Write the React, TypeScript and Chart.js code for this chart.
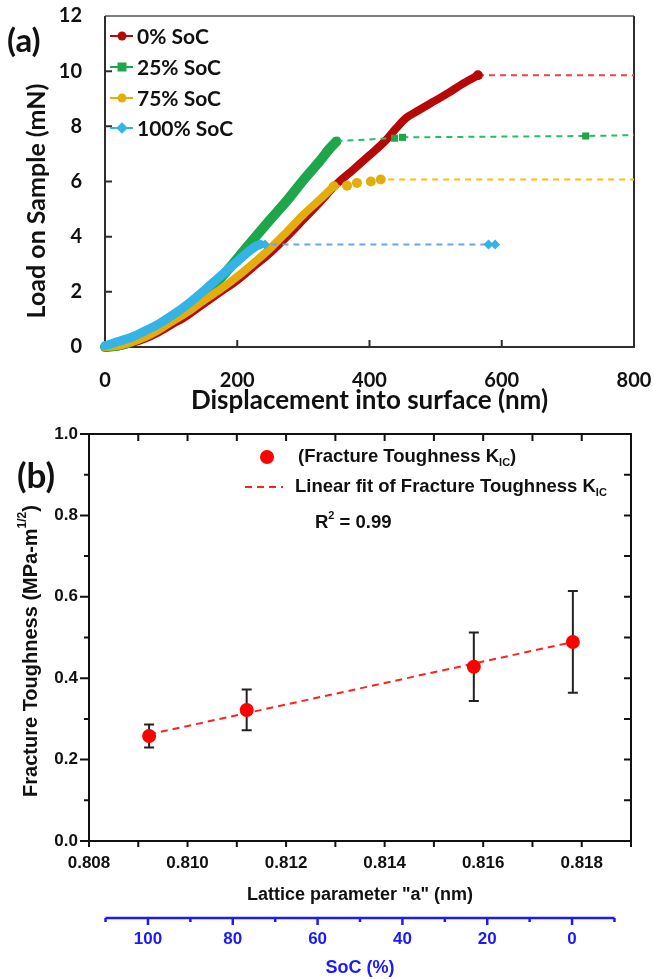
import React, { useEffect, useRef } from 'react';
import { Chart, registerables } from 'chart.js';

Chart.register(...registerables);

// ---------------- Panel (a): load vs displacement ----------------
const dispTicks = [0, 200, 400, 600, 800];
const loadTicks = [0, 2, 4, 6, 8, 10, 12];
const seriesLabels = ['0% SoC', '25% SoC', '75% SoC', '100% SoC'];

const soc0Disp = [0, 20, 40, 60, 80, 100, 125, 150, 175, 200, 225, 250, 275, 300, 325, 350, 375, 400, 425, 440, 455, 470, 500, 520, 540, 564];
const soc0Load = [0, 0.03, 0.14, 0.3, 0.52, 0.8, 1.15, 1.58, 2.0, 2.42, 2.92, 3.42, 4.0, 4.62, 5.25, 5.9, 6.42, 6.95, 7.5, 7.92, 8.3, 8.52, 8.94, 9.22, 9.53, 9.85];
const soc0HoldDisp = [564, 800];
const soc0HoldLoad = [9.85, 9.85];

const soc25Disp = [0, 20, 40, 60, 80, 100, 125, 150, 175, 200, 225, 250, 275, 300, 325, 340, 350];
const soc25Load = [0, 0.05, 0.2, 0.42, 0.7, 1.0, 1.42, 1.9, 2.5, 3.2, 3.92, 4.62, 5.3, 6.05, 6.75, 7.2, 7.45];
const soc25HoldDisp = [350, 438, 450, 727, 800];
const soc25HoldLoad = [7.47, 7.57, 7.6, 7.65, 7.68];

const soc75Disp = [0, 20, 40, 60, 80, 100, 125, 150, 175, 200, 225, 250, 275, 300, 325, 346];
const soc75Load = [0, 0.04, 0.17, 0.35, 0.6, 0.9, 1.27, 1.7, 2.1, 2.55, 3.05, 3.58, 4.18, 4.8, 5.35, 5.83];
const soc75HoldDisp = [346, 366, 381, 402, 417, 800];
const soc75HoldLoad = [5.83, 5.85, 5.95, 6.0, 6.07, 6.07];

const soc100Disp = [0, 10, 20, 43, 60, 80, 100, 125, 150, 175, 200, 215, 228, 235];
const soc100Load = [0.05, 0.12, 0.2, 0.38, 0.58, 0.82, 1.12, 1.55, 2.05, 2.58, 3.1, 3.42, 3.65, 3.72];
const soc100HoldDisp = [235, 242, 580, 590];
const soc100HoldLoad = [3.72, 3.72, 3.72, 3.72];

// ---------------- Panel (b): fracture toughness ----------------
const latticeA = [0.80922, 0.8112, 0.81581, 0.81782];
const toughness = [0.258, 0.322, 0.428, 0.489];
const toughnessErr = [0.028, 0.05, 0.084, 0.125];
const fitLattice = [0.80922, 0.81782];
const fitToughness = [0.262, 0.489];
const rSquared = '0.99';

const latticeTicks = [0.808, 0.809, 0.81, 0.811, 0.812, 0.813, 0.814, 0.815, 0.816, 0.817, 0.818, 0.819];
const latticeTickLabels = ['0.808', '', '0.810', '', '0.812', '', '0.814', '', '0.816', '', '0.818', ''];
const toughTicks = [0, 0.1, 0.2, 0.3, 0.4, 0.5, 0.6, 0.7, 0.8, 0.9, 1.0];
const toughTickLabels = ['0.0', '', '0.2', '', '0.4', '', '0.6', '', '0.8', '', '1.0'];
const socTicks = [110, 100, 90, 80, 70, 60, 50, 40, 30, 20, 10, 0, -10];
const socTickLabels = ['', '100', '', '80', '', '60', '', '40', '', '20', '', '0', ''];
const socAxisMin = -13.9;
const socAxisMax = 113.9;

const FA = 'Lato';
const FB = '"Liberation Sans", Arial, sans-serif';

const bandColors = ['#b70808', '#1ea64b', '#e3ae0b', '#33b3e6'];
const bandWidths = [8, 10, 8, 9];
const dashColors = ['#f04040', '#22c063', '#ffbf00', '#6aa6e6'];
const markerStyles = ['circle', 'rect', 'circle', 'rectRot'];

const pts = (xs: number[], ys: number[]) => xs.map((x, i) => ({ x, y: ys[i] }));

const curves = [
  { d: soc0Disp, l: soc0Load, hd: soc0HoldDisp, hl: soc0HoldLoad, hm: [1, 0] },
  { d: soc25Disp, l: soc25Load, hd: soc25HoldDisp, hl: soc25HoldLoad, hm: [1, 1, 1, 1, 0] },
  { d: soc75Disp, l: soc75Load, hd: soc75HoldDisp, hl: soc75HoldLoad, hm: [1, 1, 1, 1, 1, 0] },
  { d: soc100Disp, l: soc100Load, hd: soc100HoldDisp, hl: soc100HoldLoad, hm: [1, 1, 1, 1] },
];

function drawMarker(ctx: CanvasRenderingContext2D, style: string, x: number, y: number, r: number, color: string) {
  ctx.fillStyle = color;
  ctx.beginPath();
  if (style === 'circle') ctx.arc(x, y, r, 0, Math.PI * 2);
  else if (style === 'rect') ctx.rect(x - r, y - r, 2 * r, 2 * r);
  else {
    ctx.moveTo(x, y - r * 1.3);
    ctx.lineTo(x + r * 1.3, y);
    ctx.lineTo(x, y + r * 1.3);
    ctx.lineTo(x - r * 1.3, y);
    ctx.closePath();
  }
  ctx.fill();
}

const zeroPad = (s: any) => {
  s.paddingTop = 0;
  s.paddingBottom = 0;
  s.paddingLeft = 0;
  s.paddingRight = 0;
};

const panelAPlugin = {
  id: 'panelA',
  beforeDatasetsDraw(chart: any) {
    const { ctx, chartArea, scales } = chart;
    const { left, right, top, bottom } = chartArea;
    const x = scales.x;
    const y = scales.y;
    ctx.save();
    ctx.strokeStyle = '#555';
    ctx.lineWidth = 1.5;
    ctx.beginPath();
    ctx.moveTo(left, top);
    ctx.lineTo(right, top);
    ctx.stroke();
    ctx.strokeStyle = '#2e2e2e';
    ctx.lineWidth = 2;
    ctx.beginPath();
    ctx.moveTo(left, top);
    ctx.lineTo(left, bottom);
    ctx.lineTo(right, bottom);
    ctx.lineTo(right, top);
    x.ticks.forEach((t: any) => {
      if (t.value > x.min && t.value < x.max) {
        const p = x.getPixelForValue(t.value);
        ctx.moveTo(p, bottom);
        ctx.lineTo(p, bottom - 7);
      }
    });
    y.ticks.forEach((t: any) => {
      if (t.value > y.min && t.value < y.max) {
        const p = y.getPixelForValue(t.value);
        ctx.moveTo(left, p);
        ctx.lineTo(left + 7, p);
      }
    });
    ctx.stroke();
    ctx.restore();
  },
  afterDraw(chart: any) {
    const { ctx } = chart;
    ctx.save();
    // y-axis title
    ctx.save();
    ctx.translate(37, 201);
    ctx.rotate(-Math.PI / 2);
    ctx.fillStyle = '#111';
    ctx.font = `bold 25px ${FA}`;
    ctx.textAlign = 'center';
    ctx.textBaseline = 'middle';
    ctx.fillText('Load on Sample (mN)', 0, 0);
    ctx.restore();
    // legend
    const rows = [36, 67, 98, 128];
    seriesLabels.forEach((lab, i) => {
      const yy = rows[i];
      ctx.strokeStyle = bandColors[i];
      ctx.lineWidth = 2;
      ctx.beginPath();
      ctx.moveTo(110, yy);
      ctx.lineTo(133, yy);
      ctx.stroke();
      drawMarker(ctx, markerStyles[i], 122, yy, 4.5, bandColors[i]);
      ctx.fillStyle = '#111';
      ctx.font = `bold 21px ${FA}`;
      ctx.textBaseline = 'middle';
      ctx.textAlign = 'left';
      ctx.fillText(lab, 137, yy + 1);
    });
    // panel label
    ctx.font = `bold 33px ${FA}`;
    ctx.textBaseline = 'alphabetic';
    ctx.fillStyle = '#111';
    ctx.fillText('(a)', 7, 52);
    ctx.restore();
  },
};

function drawRich(ctx: CanvasRenderingContext2D, x: number, y: number, parts: { t: string; s: number; dy: number }[], family: string) {
  let cx = x;
  parts.forEach((p) => {
    ctx.font = `bold ${p.s}px ${family}`;
    ctx.fillText(p.t, cx, y + p.dy);
    cx += ctx.measureText(p.t).width;
  });
  return cx - x;
}

function richWidth(ctx: CanvasRenderingContext2D, parts: { t: string; s: number; dy: number }[], family: string) {
  let w = 0;
  parts.forEach((p) => {
    ctx.font = `bold ${p.s}px ${family}`;
    w += ctx.measureText(p.t).width;
  });
  return w;
}

const panelBPlugin = {
  id: 'panelB',
  beforeDatasetsDraw(chart: any) {
    const { ctx, chartArea, scales } = chart;
    const { left, right, top, bottom } = chartArea;
    const x = scales.x;
    const y = scales.y;
    const x2 = scales.x2;
    ctx.save();
    ctx.strokeStyle = '#111';
    ctx.lineWidth = 2;
    ctx.strokeRect(left, top, right - left, bottom - top);
    ctx.beginPath();
    x.ticks.forEach((t: any) => {
      const p = x.getPixelForValue(t.value);
      ctx.moveTo(p, bottom);
      ctx.lineTo(p, bottom + 6);
      if (t.value > x.min + 1e-6 && t.value < x.max - 1e-6) {
        ctx.moveTo(p, top);
        ctx.lineTo(p, top + 7);
      }
    });
    y.ticks.forEach((t: any, i: number) => {
      const p = y.getPixelForValue(t.value);
      const major = toughTickLabels[i] !== '';
      ctx.moveTo(left, p);
      ctx.lineTo(left - (major ? 9 : 5), p);
      if (t.value > y.min + 1e-6 && t.value < y.max - 1e-6) {
        ctx.moveTo(right, p);
        ctx.lineTo(right - 7, p);
      }
    });
    ctx.stroke();

    // SoC axis line
    ctx.strokeStyle = '#1a1aff';
    ctx.lineWidth = 2.5;
    const ay = x2.top;
    const x0 = x2.getPixelForValue(socTicks[0]);
    const x1 = x2.getPixelForValue(socTicks[socTicks.length - 1]);
    ctx.beginPath();
    ctx.moveTo(x0, ay);
    ctx.lineTo(x1, ay);
    socTicks.forEach((v, i) => {
      const p = x2.getPixelForValue(v);
      const len = socTickLabels[i] !== '' ? 7 : 4;
      ctx.moveTo(p, ay);
      ctx.lineTo(p, ay + len);
    });
    ctx.stroke();

    // error bars
    ctx.strokeStyle = '#222';
    ctx.lineWidth = 2;
    ctx.beginPath();
    latticeA.forEach((v, i) => {
      const px = x.getPixelForValue(v);
      const yt = y.getPixelForValue(toughness[i] + toughnessErr[i]);
      const yb = y.getPixelForValue(toughness[i] - toughnessErr[i]);
      ctx.moveTo(px, yt);
      ctx.lineTo(px, yb);
      ctx.moveTo(px - 5, yt);
      ctx.lineTo(px + 5, yt);
      ctx.moveTo(px - 5, yb);
      ctx.lineTo(px + 5, yb);
    });
    ctx.stroke();
    ctx.restore();
  },
  afterDraw(chart: any) {
    const { ctx } = chart;
    ctx.save();
    ctx.fillStyle = '#111';
    ctx.textBaseline = 'middle';
    ctx.textAlign = 'left';

    // y-axis title with superscript
    const titleParts = [
      { t: 'Fracture Toughness (MPa-m', s: 20, dy: 0 },
      { t: '1/2', s: 12, dy: -8 },
      { t: ')', s: 20, dy: 0 },
    ];
    const tw = richWidth(ctx, titleParts, FB);
    ctx.save();
    ctx.translate(31, 231);
    ctx.rotate(-Math.PI / 2);
    drawRich(ctx, -tw / 2, 0, titleParts, FB);
    ctx.restore();

    // legend
    ctx.fillStyle = '#ff0000';
    ctx.beginPath();
    ctx.arc(267, 37, 7, 0, Math.PI * 2);
    ctx.fill();
    ctx.fillStyle = '#111';
    drawRich(ctx, 298, 37, [
      { t: '(Fracture Toughness K', s: 18.5, dy: 0 },
      { t: 'IC', s: 11, dy: 6 },
      { t: ')', s: 18.5, dy: 0 },
    ], FB);

    ctx.strokeStyle = '#ff2020';
    ctx.lineWidth = 2;
    ctx.setLineDash([7, 5]);
    ctx.beginPath();
    ctx.moveTo(245, 67);
    ctx.lineTo(283, 67);
    ctx.stroke();
    ctx.setLineDash([]);
    drawRich(ctx, 295, 67, [
      { t: 'Linear fit of Fracture Toughness K', s: 18.5, dy: 0 },
      { t: 'IC', s: 11, dy: 6 },
    ], FB);

    drawRich(ctx, 315, 103, [
      { t: 'R', s: 18.5, dy: 0 },
      { t: '2', s: 11, dy: -7 },
      { t: ' = ' + rSquared, s: 18.5, dy: 0 },
    ], FB);

    // panel label
    ctx.font = `bold 35px ${FA}`;
    ctx.textBaseline = 'alphabetic';
    ctx.fillText('(b)', 17, 68);
    ctx.restore();
  },
};

export default function App() {
  const refA = useRef<HTMLCanvasElement>(null);
  const refB = useRef<HTMLCanvasElement>(null);

  useEffect(() => {
    const datasets: any[] = [];
    curves.forEach((c, i) => {
      datasets.push({
        label: seriesLabels[i],
        data: pts(c.d, c.l),
        borderColor: bandColors[i],
        backgroundColor: bandColors[i],
        borderWidth: bandWidths[i],
        borderCapStyle: 'round',
        borderJoinStyle: 'round',
        pointRadius: 0,
        cubicInterpolationMode: 'monotone',
        clip: false,
        order: 10 - i,
      });
      datasets.push({
        label: seriesLabels[i] + ' hold',
        data: pts(c.hd, c.hl),
        borderColor: dashColors[i],
        backgroundColor: bandColors[i],
        borderWidth: 2,
        borderDash: [6, 5],
        pointRadius: c.hm.map((m) => (m ? 5 : 0)),
        pointStyle: markerStyles[i],
        pointBorderWidth: 0,
        clip: false,
        order: i,
      });
    });

    const chartA = new Chart(refA.current!, {
      type: 'line',
      data: { datasets },
      plugins: [panelAPlugin],
      options: {
        animation: false,
        responsive: false,
        events: [],
        layout: { padding: { top: 16, right: 20, left: 0, bottom: 0 } },
        plugins: { legend: { display: false }, tooltip: { enabled: false } },
        scales: {
          x: {
            type: 'linear',
            min: 0,
            max: 800,
            afterBuildTicks: (s: any) => { s.ticks = dispTicks.map((v) => ({ value: v })); },
            afterFit: (s: any) => { s.height = 73; zeroPad(s); },
            grid: { display: false, drawTicks: false },
            border: { display: false },
            ticks: { color: '#111', font: { family: FA, weight: 'bold', size: 20 }, padding: 22, maxRotation: 0, autoSkip: false },
            title: { display: true, text: 'Displacement into surface (nm)', color: '#111', font: { family: FA, weight: 'bold', size: 26, lineHeight: 1.2 }, padding: { top: 0, bottom: 4 } },
          },
          y: {
            type: 'linear',
            min: 0,
            max: 12,
            afterBuildTicks: (s: any) => { s.ticks = loadTicks.map((v) => ({ value: v })); },
            afterFit: (s: any) => { s.width = 105; zeroPad(s); },
            grid: { display: false, drawTicks: false },
            border: { display: false },
            ticks: { color: '#111', font: { family: FA, weight: 'bold', size: 20 }, padding: 23 },
            title: { display: false },
          },
        },
      } as any,
    });

    const chartB = new Chart(refB.current!, {
      type: 'scatter',
      data: {
        datasets: [
          {
            label: 'Fracture Toughness KIC',
            data: pts(latticeA, toughness),
            backgroundColor: '#ff0000',
            borderColor: '#ff0000',
            pointRadius: 7,
            pointBorderWidth: 0,
            showLine: false,
            order: 0,
          },
          {
            label: 'Linear fit',
            data: pts(fitLattice, fitToughness),
            borderColor: '#ff2020',
            borderWidth: 2,
            borderDash: [7, 5],
            pointRadius: 0,
            showLine: true,
            order: 1,
          },
        ],
      },
      plugins: [panelBPlugin],
      options: {
        animation: false,
        responsive: false,
        events: [],
        layout: { padding: { top: 14, right: 23, left: 0, bottom: 0 } },
        plugins: { legend: { display: false }, tooltip: { enabled: false } },
        scales: {
          x: {
            type: 'linear',
            position: 'bottom',
            weight: 0,
            min: latticeTicks[0],
            max: latticeTicks[latticeTicks.length - 1],
            afterBuildTicks: (s: any) => { s.ticks = latticeTicks.map((v) => ({ value: v })); },
            afterFit: (s: any) => { s.height = 77; zeroPad(s); },
            grid: { display: false, drawTicks: false },
            border: { display: false },
            ticks: {
              color: '#111',
              font: { family: FB, weight: 'bold', size: 17 },
              padding: 12,
              autoSkip: false,
              maxRotation: 0,
              callback: (_v: any, i: number) => latticeTickLabels[i],
            },
            title: { display: true, text: 'Lattice parameter "a" (nm)', color: '#111', font: { family: FB, weight: 'bold', size: 18, lineHeight: 1.2 }, padding: { top: 0, bottom: 12 } },
          },
          x2: {
            type: 'linear',
            position: 'bottom',
            weight: 1,
            reverse: true,
            min: socAxisMin,
            max: socAxisMax,
            afterBuildTicks: (s: any) => { s.ticks = socTicks.map((v) => ({ value: v })); },
            afterFit: (s: any) => { s.height = 61; zeroPad(s); },
            grid: { display: false, drawTicks: false },
            border: { display: false },
            ticks: {
              color: '#1a1aff',
              font: { family: FB, weight: 'bold', size: 17 },
              padding: 11,
              autoSkip: false,
              maxRotation: 0,
              callback: (_v: any, i: number) => socTickLabels[i],
            },
            title: { display: true, text: 'SoC (%)', color: '#1a1aff', font: { family: FB, weight: 'bold', size: 18, lineHeight: 1.2 }, padding: { top: 0, bottom: 0 } },
          },
          y: {
            type: 'linear',
            min: 0,
            max: 1,
            afterBuildTicks: (s: any) => { s.ticks = toughTicks.map((v) => ({ value: v })); },
            afterFit: (s: any) => { s.width = 89; zeroPad(s); },
            grid: { display: false, drawTicks: false },
            border: { display: false },
            ticks: {
              color: '#111',
              font: { family: FB, weight: 'bold', size: 17 },
              padding: 11,
              autoSkip: false,
              callback: (_v: any, i: number) => toughTickLabels[i],
            },
          },
        },
      } as any,
    });

    return () => {
      chartA.destroy();
      chartB.destroy();
    };
  }, []);

  return (
    <div style={{ position: 'fixed', left: 0, top: 0, width: 654, height: 979, background: '#fff' }}>
      <canvas ref={refA} width={654} height={420} style={{ position: 'absolute', left: 0, top: 0 }} />
      <canvas ref={refB} width={654} height={559} style={{ position: 'absolute', left: 0, top: 420 }} />
    </div>
  );
}
